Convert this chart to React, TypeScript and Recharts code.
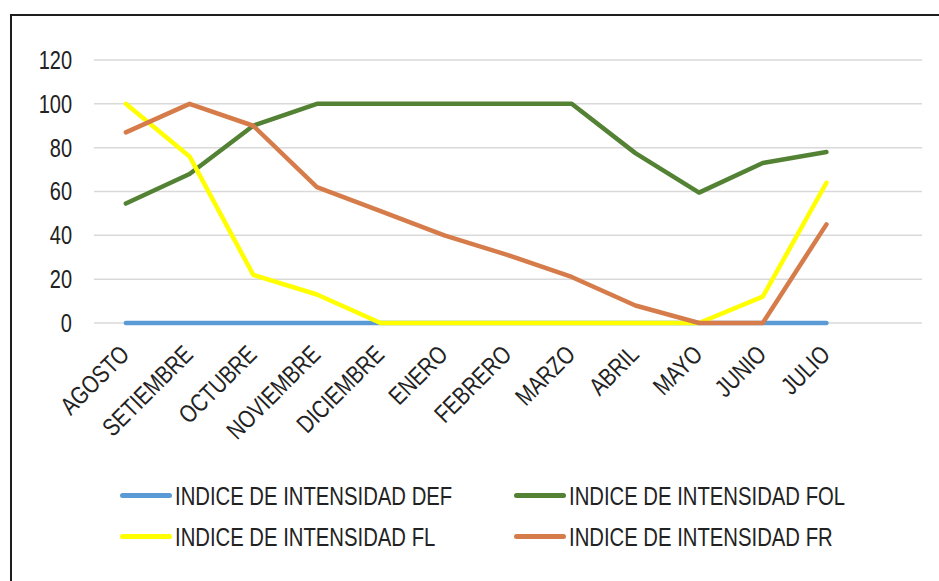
import React from 'react';
import { LineChart, Line, XAxis, YAxis, CartesianGrid, Legend } from 'recharts';

const months = ['AGOSTO', 'SETIEMBRE', 'OCTUBRE', 'NOVIEMBRE', 'DICIEMBRE', 'ENERO', 'FEBRERO', 'MARZO', 'ABRIL', 'MAYO', 'JUNIO', 'JULIO'];
const defValues = [0, 0, 0, 0, 0, 0, 0, 0, 0, 0, 0, 0];
const folValues = [54.5, 68, 90, 100, 100, 100, 100, 100, 77.5, 59.5, 73, 78];
const flValues = [100, 76, 22, 13, 0, 0, 0, 0, 0, 0, 12, 64];
const frValues = [87, 100, 90, 62, 51, 40, 31, 21, 8, 0, 0, 45];
const yTicks = [0, 20, 40, 60, 80, 100, 120];

const seriesNames = {
  def: 'INDICE DE INTENSIDAD DEF',
  fol: 'INDICE DE INTENSIDAD FOL',
  fl: 'INDICE DE INTENSIDAD FL',
  fr: 'INDICE DE INTENSIDAD FR',
};
const legendOrder = [seriesNames.def, seriesNames.fol, seriesNames.fl, seriesNames.fr];

const data = months.map((m, i) => ({
  month: m,
  def: defValues[i],
  fol: folValues[i],
  fl: flValues[i],
  fr: frValues[i],
}));

const FONT = '"Liberation Sans", Arial, sans-serif';
const TEXT = '#222222';

const XTick = (props: any) => {
  const { x, y, payload } = props;
  return (
    <text
      transform={`translate(${x + 5},${y + 33}) rotate(-45) scale(0.8,1)`}
      textAnchor="end"
      fontSize={25}
      fontFamily={FONT}
      fill={TEXT}
    >
      {payload.value}
    </text>
  );
};

const YTick = (props: any) => {
  const { x, y, payload } = props;
  return (
    <text
      transform={`translate(${x},${y}) scale(0.8,1)`}
      textAnchor="end"
      dy="0.355em"
      fontSize={25}
      fontFamily={FONT}
      fill={TEXT}
    >
      {payload.value}
    </text>
  );
};

const renderLegend = (props: any) => {
  const payload = [...(props.payload || [])].sort(
    (a: any, b: any) => legendOrder.indexOf(a.value) - legendOrder.indexOf(b.value)
  );
  return (
    <div style={{ display: 'grid', gridTemplateColumns: '394px 394px', gridAutoRows: '41px' }}>
      {payload.map((entry: any) => (
        <div key={entry.value} style={{ display: 'flex', alignItems: 'center', height: 41 }}>
          <span
            style={{
              display: 'inline-block',
              width: 52,
              height: 5,
              borderRadius: 3,
              background: entry.color,
              marginRight: 3,
              flex: '0 0 auto',
            }}
          />
          <span
            style={{
              display: 'inline-block',
              fontFamily: FONT,
              fontSize: 26,
              lineHeight: '26px',
              color: TEXT,
              whiteSpace: 'nowrap',
              transform: 'scaleX(0.78)',
              transformOrigin: 'left center',
            }}
          >
            {entry.value}
          </span>
        </div>
      ))}
    </div>
  );
};

export default function App() {
  return (
    <div style={{ position: 'absolute', left: 0, top: 0, width: 939, height: 581, background: '#ffffff' }}>
      <div
        style={{
          position: 'absolute',
          left: 10,
          top: 14,
          width: 929,
          height: 567,
          borderTop: '2px solid #1e1e1e',
          borderLeft: '2px solid #1e1e1e',
          boxSizing: 'border-box',
        }}
      />
      <LineChart width={939} height={581} data={data} margin={{ top: 60, right: 17, bottom: 158, left: 0 }}>
        <CartesianGrid horizontal vertical={false} stroke="#d9d9d9" strokeWidth={1.5} />
        <XAxis
          dataKey="month"
          type="category"
          height={100}
          interval={0}
          axisLine={false}
          tickLine={false}
          tickSize={0}
          tickMargin={0}
          padding={{ left: 31.85, right: 95.55 }}
          tick={<XTick />}
        />
        <YAxis
          width={94}
          domain={[0, 120]}
          ticks={yTicks}
          axisLine={false}
          tickLine={false}
          tickSize={0}
          tickMargin={22}
          tick={<YTick />}
        />
        <Legend
          layout="horizontal"
          verticalAlign="middle"
          align="center"
          wrapperStyle={{ left: 120, top: 475, width: 800, height: 82 }}
          content={renderLegend}
        />
        <Line type="linear" dataKey="def" name={seriesNames.def} stroke="#5b9bd5" strokeWidth={4.5} strokeLinecap="round" strokeLinejoin="round" dot={false} activeDot={false} isAnimationActive={false} />
        <Line type="linear" dataKey="fol" name={seriesNames.fol} stroke="#548235" strokeWidth={4.5} strokeLinecap="round" strokeLinejoin="round" dot={false} activeDot={false} isAnimationActive={false} />
        <Line type="linear" dataKey="fl" name={seriesNames.fl} stroke="#ffff00" strokeWidth={4.5} strokeLinecap="round" strokeLinejoin="round" dot={false} activeDot={false} isAnimationActive={false} />
        <Line type="linear" dataKey="fr" name={seriesNames.fr} stroke="#d67c4b" strokeWidth={4.5} strokeLinecap="round" strokeLinejoin="round" dot={false} activeDot={false} isAnimationActive={false} />
      </LineChart>
    </div>
  );
}
